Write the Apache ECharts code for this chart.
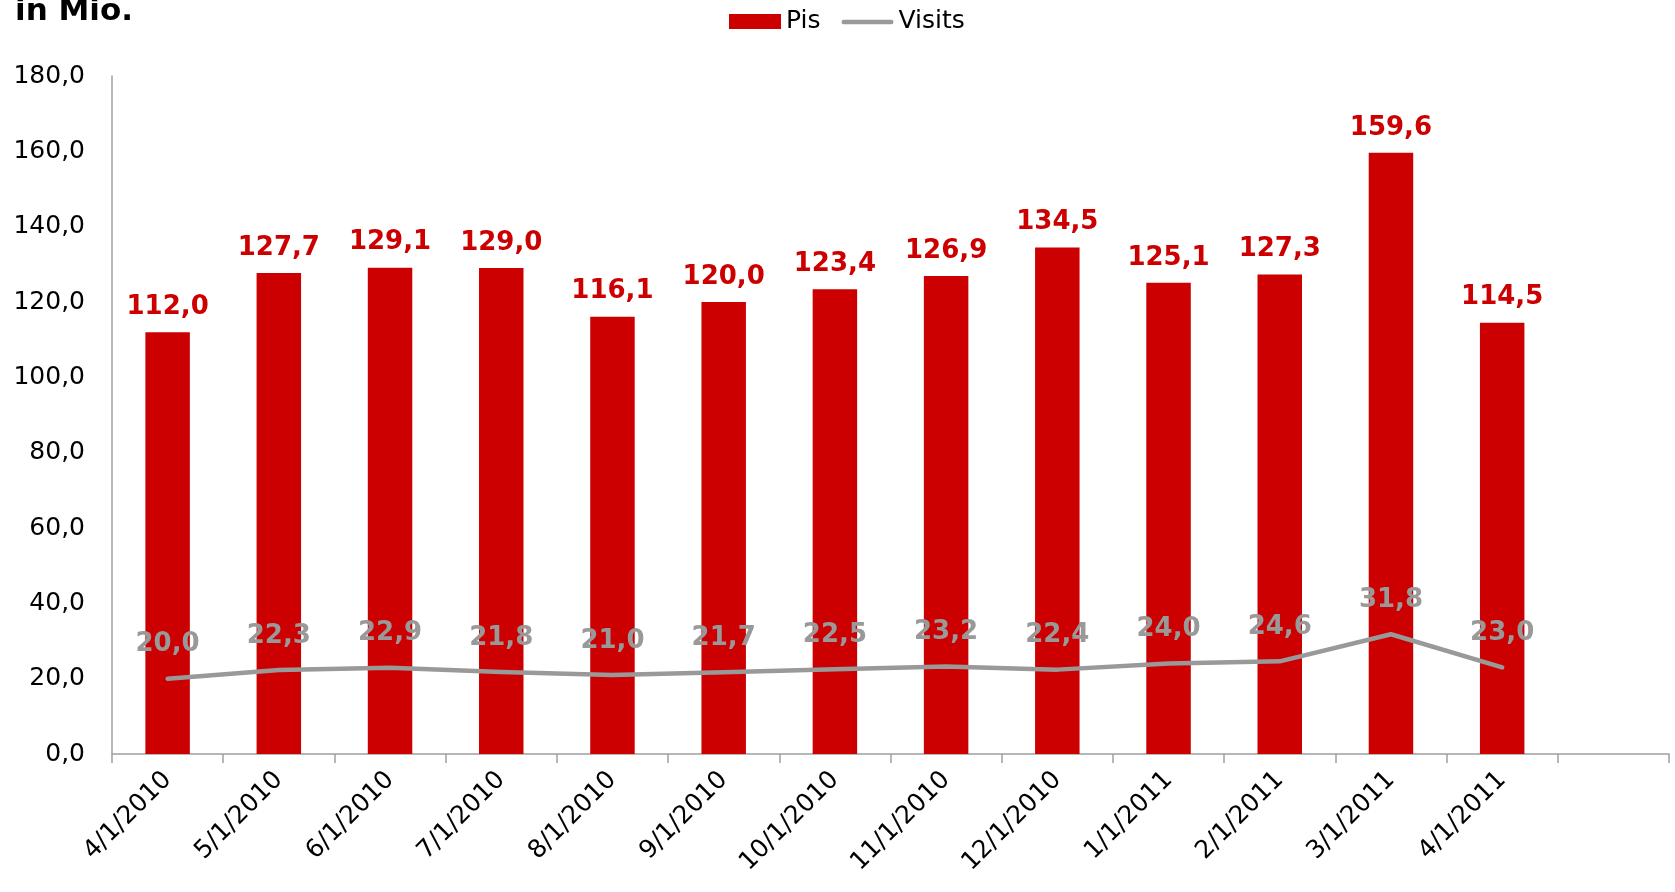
<!DOCTYPE html>
<html>
<head>
<meta charset="utf-8">
<script src="https://cdn.jsdelivr.net/npm/echarts@6/dist/echarts.min.js"></script>
<style>
    html, body { margin: 0; padding: 0; background: #fff; }
    #chart { width: 1675px; height: 892px; }
</style>
</head>
<body>
<div id="chart"></div>
<script>
const categories = ['4/1/2010', '5/1/2010', '6/1/2010', '7/1/2010', '8/1/2010', '9/1/2010',
    '10/1/2010', '11/1/2010', '12/1/2010', '1/1/2011', '2/1/2011', '3/1/2011', '4/1/2011'];
const pis = [112.0, 127.7, 129.1, 129.0, 116.1, 120.0, 123.4, 126.9, 134.5, 125.1, 127.3, 159.6, 114.5];
const visits = [20.0, 22.3, 22.9, 21.8, 21.0, 21.7, 22.5, 23.2, 22.4, 24.0, 24.6, 31.8, 23.0];

const FONT = 'DejaVu Sans';
const fmt = v => Number(v).toFixed(1).replace('.', ',');

// thin grey bar in the middle of a 56x15 box, used as legend icon for the line
const lineIcon = 'path://M0,0L1,0M2,5.5L54,5.5A2.5,2.5,0,0,1,54,10.5L2,10.5A2.5,2.5,0,0,1,2,5.5ZM0,15L1,15';

const chart = echarts.init(document.getElementById('chart'), null, { renderer: 'canvas' });

chart.setOption({
    animation: false,
    textStyle: { fontFamily: FONT },
    title: {
        text: 'in Mio.',
        left: 10,
        top: -9,
        textStyle: { fontFamily: FONT, fontWeight: 'bold', fontSize: 31, color: '#000' },
    },
    legend: {
        left: 724,
        top: 4,
        itemGap: 21,
        itemWidth: 52,
        itemHeight: 15,
        textStyle: { fontFamily: FONT, fontSize: 25, color: '#000' },
        data: [
            { name: 'Pis', icon: 'rect' },
            { name: 'Visits', icon: lineIcon, itemStyle: { color: '#999999' } },
        ],
    },
    grid: { left: 112, right: 6, top: 76, bottom: 138, containLabel: false },
    xAxis: {
        type: 'category',
        boundaryGap: true,
        data: categories.concat(['']),
        axisLine: { lineStyle: { color: '#a0a0a0', width: 1.5 } },
        axisTick: { show: true, length: 9, lineStyle: { color: '#a0a0a0', width: 1.5 } },
        axisLabel: {
            rotate: 45,
            interval: 0,
            margin: 22,
            fontFamily: FONT,
            fontSize: 25,
            color: '#000',
        },
    },
    yAxis: {
        type: 'value',
        min: 0,
        max: 180,
        interval: 20,
        splitLine: { show: false },
        axisLine: { show: true, lineStyle: { color: '#a0a0a0', width: 1.5 } },
        axisTick: { show: false },
        axisLabel: {
            margin: 27,
            fontFamily: FONT,
            fontSize: 25,
            color: '#000',
            formatter: fmt,
        },
    },
    series: [
        {
            name: 'Pis',
            type: 'bar',
            data: pis,
            barWidth: '40%',
            itemStyle: { color: '#cc0000' },
            label: {
                show: true,
                position: 'top',
                distance: 12,
                fontFamily: FONT,
                fontWeight: 'bold',
                fontSize: 26,
                color: '#cc0000',
                formatter: p => fmt(p.value),
            },
        },
        {
            name: 'Visits',
            type: 'line',
            data: visits,
            symbol: 'circle',
            symbolSize: 2,
            showSymbol: true,
            lineStyle: { color: '#999999', width: 4.5, cap: 'round', join: 'round' },
            itemStyle: { color: '#999999' },
            label: {
                show: true,
                position: 'top',
                distance: 20,
                fontFamily: FONT,
                fontWeight: 'bold',
                fontSize: 26,
                color: '#999999',
                formatter: p => fmt(p.value),
            },
            labelLayout: { hideOverlap: false },
            z: 3,
        },
    ],
});
</script>
</body>
</html>
